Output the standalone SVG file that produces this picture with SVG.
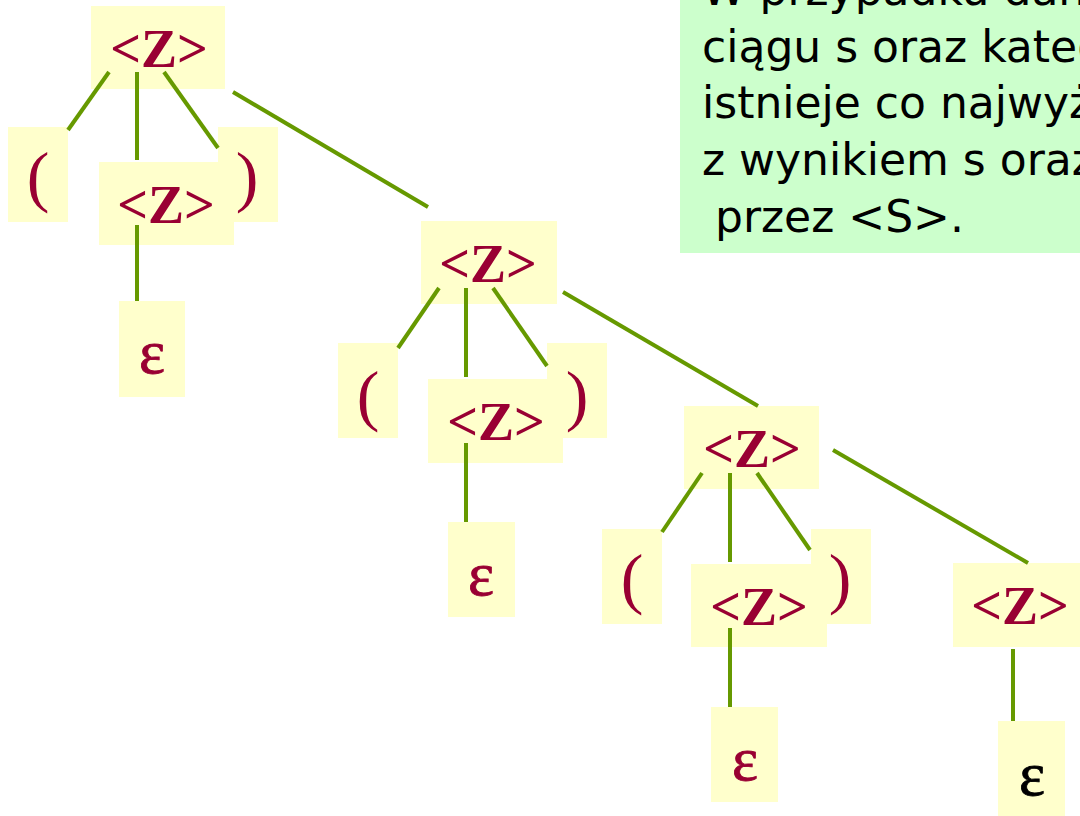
<svg xmlns="http://www.w3.org/2000/svg" width="1080" height="816" viewBox="0 0 1080 816">
  <style>
    .box { fill: #FFFFCC; }
    .edge { stroke: #669900; stroke-width: 4; fill: none; }
    .nt { font-family: "Liberation Serif", "Times New Roman", serif; font-weight: bold; font-size: 54px; fill: #990033; text-anchor: middle; }
    .par { font-family: "Liberation Serif", "Times New Roman", serif; font-size: 68px; fill: #990033; text-anchor: middle; }
    .eps { font-family: "Liberation Serif", "Times New Roman", serif; font-size: 62px; fill: #990033; text-anchor: middle; stroke: #990033; stroke-width: 0.8; }
    .note { font-family: "DejaVu Sans", sans-serif; font-size: 44px; fill: #000000; }
  </style>

  <rect width="1080" height="816" fill="#FFFFFF"/>

  <!-- explanatory note -->
  <g id="note">
    <rect x="680" y="0" width="400" height="253" fill="#CCFFCC"/>
    <text class="note" x="702" y="5">W przypadku dan</text>
    <text class="note" x="702" y="62">ciągu s oraz kateg</text>
    <text class="note" x="702" y="118">istnieje co najwyż</text>
    <text class="note" x="702" y="175">z wynikiem s oraz</text>
    <text class="note" x="715" y="232">przez &lt;S&gt;.</text>
  </g>

  <!-- level 1 -->
  <g id="z1">
    <rect class="box" x="91" y="6" width="134" height="83"/>
    <text class="nt" x="159" y="67">&lt;Z&gt;</text>
  </g>
  <g id="lp1">
    <rect class="box" x="8" y="127" width="60" height="95"/>
    <text class="par" x="38" y="199">(</text>
  </g>
  <g id="rp1">
    <rect class="box" x="218" y="127" width="60" height="95"/>
    <text class="par" x="247" y="199">)</text>
  </g>
  <g id="z1a">
    <rect class="box" x="99" y="162" width="135" height="83"/>
    <text class="nt" x="166" y="223">&lt;Z&gt;</text>
  </g>
  <g id="e1">
    <rect class="box" x="119" y="301" width="66" height="96"/>
    <text class="eps" x="152" y="373">ε</text>
  </g>

  <!-- level 2 -->
  <g id="z2">
    <rect class="box" x="421" y="221" width="136" height="83"/>
    <text class="nt" x="488" y="282">&lt;Z&gt;</text>
  </g>
  <g id="lp2">
    <rect class="box" x="338" y="343" width="60" height="95"/>
    <text class="par" x="368" y="418">(</text>
  </g>
  <g id="rp2">
    <rect class="box" x="547" y="343" width="60" height="95"/>
    <text class="par" x="577" y="418">)</text>
  </g>
  <g id="z2a">
    <rect class="box" x="428" y="379" width="135" height="84"/>
    <text class="nt" x="496" y="440">&lt;Z&gt;</text>
  </g>
  <g id="e2">
    <rect class="box" x="448" y="522" width="67" height="95"/>
    <text class="eps" x="481" y="595">ε</text>
  </g>

  <!-- level 3 -->
  <g id="z3">
    <rect class="box" x="684" y="406" width="135" height="83"/>
    <text class="nt" x="752" y="467">&lt;Z&gt;</text>
  </g>
  <g id="lp3">
    <rect class="box" x="602" y="529" width="60" height="95"/>
    <text class="par" x="632" y="601">(</text>
  </g>
  <g id="rp3">
    <rect class="box" x="811" y="529" width="60" height="95"/>
    <text class="par" x="840" y="601">)</text>
  </g>
  <g id="z3a">
    <rect class="box" x="691" y="564" width="136" height="83"/>
    <text class="nt" x="759" y="625">&lt;Z&gt;</text>
  </g>
  <g id="e3">
    <rect class="box" x="711" y="707" width="67" height="95"/>
    <text class="eps" x="745" y="780">ε</text>
  </g>
  <g id="z4">
    <rect class="box" x="953" y="563" width="127" height="84"/>
    <text class="nt" x="1020" y="624">&lt;Z&gt;</text>
  </g>
  <g id="e4">
    <rect class="box" x="998" y="721" width="67" height="95"/>
    <text class="eps" x="1032" y="795" style="fill:#000000;stroke:#000000">ε</text>
  </g>

  <!-- tree edges, drawn over the node boxes -->
  <g id="connectors">
    <line class="edge" x1="109" y1="72" x2="68" y2="130"/>
    <line class="edge" x1="137" y1="72" x2="137" y2="160"/>
    <line class="edge" x1="164" y1="72" x2="218" y2="148"/>
    <line class="edge" x1="233" y1="92" x2="428" y2="207"/>
    <line class="edge" x1="137" y1="225" x2="137" y2="301"/>

    <line class="edge" x1="439" y1="288" x2="398" y2="348"/>
    <line class="edge" x1="466" y1="288" x2="466" y2="377"/>
    <line class="edge" x1="493" y1="288" x2="547" y2="366"/>
    <line class="edge" x1="563" y1="292" x2="758" y2="406"/>
    <line class="edge" x1="466" y1="443" x2="466" y2="522"/>

    <line class="edge" x1="702" y1="473" x2="662" y2="532"/>
    <line class="edge" x1="730" y1="473" x2="730" y2="562"/>
    <line class="edge" x1="757" y1="473" x2="810" y2="550"/>
    <line class="edge" x1="833" y1="450" x2="1028" y2="563"/>
    <line class="edge" x1="730" y1="628" x2="730" y2="707"/>

    <line class="edge" x1="1013" y1="649" x2="1013" y2="721"/>
  </g>
</svg>
